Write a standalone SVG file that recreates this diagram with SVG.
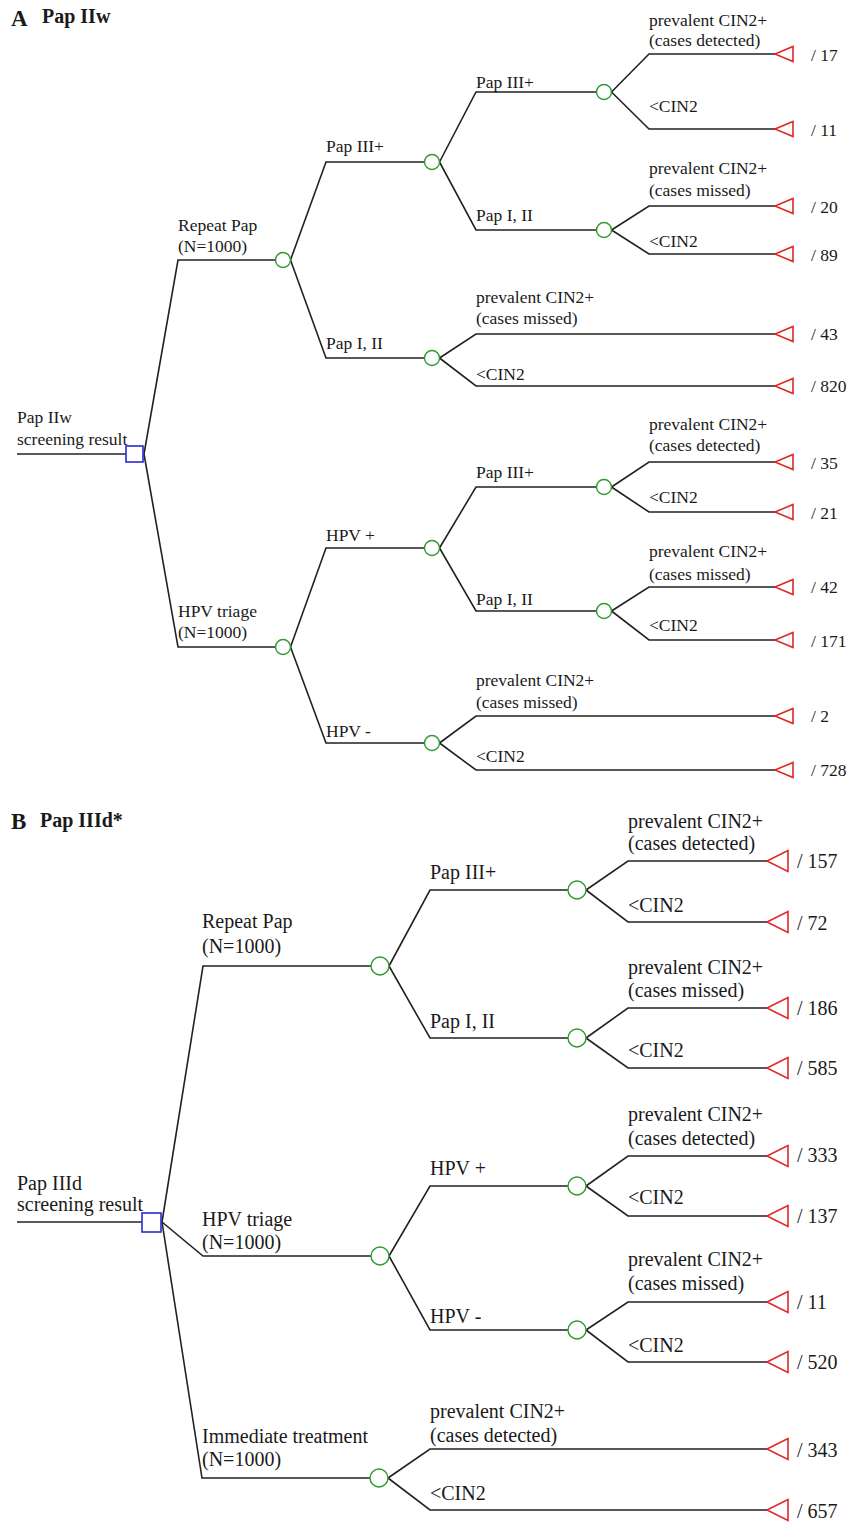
<svg xmlns="http://www.w3.org/2000/svg" width="858" height="1522" viewBox="0 0 858 1522">
<style>
  text { font-family: "Liberation Serif", "Times New Roman", serif; fill: #1a1a1a; }
  .ta { font-size: 17.5px; }
  .tb { font-size: 20px; }
  .title { font-weight: bold; font-size: 20px; }
  .big { font-weight: bold; font-size: 23px; }
  .edge { fill: none; stroke: #222; stroke-width: 1.6; }
  .dec { fill: #fff; stroke: #2b2bd0; stroke-width: 1.6; }
  .chance { fill: #fff; stroke: #2e9a2e; stroke-width: 1.4; }
  .term { fill: none; stroke: #e02828; stroke-width: 1.6; stroke-linejoin: miter; }
</style>
<rect width="858" height="1522" fill="#fff"/>

<!-- Titles -->
<g id="title-a"><text class="big" x="11" y="26">A</text><text class="title" x="42" y="23">Pap IIw</text></g>
<g id="title-b"><text class="big" x="11" y="829">B</text><text class="title" x="40" y="827">Pap IIId*</text></g>

<!-- Connectors -->
<g id="connectors">
  <!-- Panel A -->
  <path class="edge" d="M17,454 H126"/>
  <path class="edge" d="M144,454 L178,260 H275.5"/>
  <path class="edge" d="M144,454 L178,647 H275.5"/>
  <path class="edge" d="M290.5,260 L326,162 H424.5"/>
  <path class="edge" d="M290.5,260 L326,358 H424.5"/>
  <path class="edge" d="M439.5,162 L476,92 H596.5"/>
  <path class="edge" d="M439.5,162 L476,230 H596.5"/>
  <path class="edge" d="M611.5,92 L649,54 H775"/>
  <path class="edge" d="M611.5,92 L649,129 H775"/>
  <path class="edge" d="M611.5,230 L649,206 H775"/>
  <path class="edge" d="M611.5,230 L649,254 H775"/>
  <path class="edge" d="M439.5,358 L476,334 H775"/>
  <path class="edge" d="M439.5,358 L476,386 H775"/>
  <path class="edge" d="M290.5,647 L326,548 H424.5"/>
  <path class="edge" d="M290.5,647 L326,743 H424.5"/>
  <path class="edge" d="M439.5,548 L476,487 H596.5"/>
  <path class="edge" d="M439.5,548 L476,611 H596.5"/>
  <path class="edge" d="M611.5,487 L649,462 H775"/>
  <path class="edge" d="M611.5,487 L649,512 H775"/>
  <path class="edge" d="M611.5,611 L649,587 H775"/>
  <path class="edge" d="M611.5,611 L649,640 H775"/>
  <path class="edge" d="M439.5,743 L476,716 H775"/>
  <path class="edge" d="M439.5,743 L476,770 H775"/>
  <!-- Panel B -->
  <path class="edge" d="M17,1222 H142"/>
  <path class="edge" d="M162,1222 L203,966 H371"/>
  <path class="edge" d="M162,1222 L203,1256 H371"/>
  <path class="edge" d="M162,1222 L202,1478 H370"/>
  <path class="edge" d="M389,966 L430,890 H568"/>
  <path class="edge" d="M389,966 L430,1038 H568"/>
  <path class="edge" d="M586,890 L628,861 H767"/>
  <path class="edge" d="M586,890 L628,922 H767"/>
  <path class="edge" d="M586,1038 L628,1008 H767"/>
  <path class="edge" d="M586,1038 L628,1068 H767"/>
  <path class="edge" d="M389,1256 L430,1186 H568"/>
  <path class="edge" d="M389,1256 L430,1330 H568"/>
  <path class="edge" d="M586,1186 L628,1156 H767"/>
  <path class="edge" d="M586,1186 L628,1216 H767"/>
  <path class="edge" d="M586,1330 L628,1302 H767"/>
  <path class="edge" d="M586,1330 L628,1362 H767"/>
  <path class="edge" d="M388,1478 L430,1449 H767"/>
  <path class="edge" d="M388,1478 L430,1510 H767"/>
</g>

<!-- Branch labels -->
<g id="labels-a" class="ta">
  <text class="ta" x="17" y="423">Pap IIw</text>
  <text class="ta" x="17" y="445">screening result</text>
  <text class="ta" x="178" y="231">Repeat Pap</text>
  <text class="ta" x="178" y="252">(N=1000)</text>
  <text class="ta" x="178" y="617">HPV triage</text>
  <text class="ta" x="178" y="638">(N=1000)</text>
  <text class="ta" x="326" y="152">Pap III+</text>
  <text class="ta" x="326" y="349">Pap I, II</text>
  <text class="ta" x="476" y="88">Pap III+</text>
  <text class="ta" x="476" y="221">Pap I, II</text>
  <text class="ta" x="326" y="541">HPV +</text>
  <text class="ta" x="326" y="737">HPV -</text>
  <text class="ta" x="476" y="478">Pap III+</text>
  <text class="ta" x="476" y="605">Pap I, II</text>
  <text class="ta" x="649" y="26">prevalent CIN2+</text>
  <text class="ta" x="649" y="46">(cases detected)</text>
  <text class="ta" x="649" y="112">&lt;CIN2</text>
  <text class="ta" x="649" y="174">prevalent CIN2+</text>
  <text class="ta" x="649" y="196">(cases missed)</text>
  <text class="ta" x="649" y="247">&lt;CIN2</text>
  <text class="ta" x="476" y="303">prevalent CIN2+</text>
  <text class="ta" x="476" y="324">(cases missed)</text>
  <text class="ta" x="476" y="380">&lt;CIN2</text>
  <text class="ta" x="649" y="430">prevalent CIN2+</text>
  <text class="ta" x="649" y="451">(cases detected)</text>
  <text class="ta" x="649" y="503">&lt;CIN2</text>
  <text class="ta" x="649" y="557">prevalent CIN2+</text>
  <text class="ta" x="649" y="580">(cases missed)</text>
  <text class="ta" x="649" y="631">&lt;CIN2</text>
  <text class="ta" x="476" y="686">prevalent CIN2+</text>
  <text class="ta" x="476" y="708">(cases missed)</text>
  <text class="ta" x="476" y="762">&lt;CIN2</text>
</g>
<g id="labels-b">
  <text class="tb" x="17" y="1190">Pap IIId</text>
  <text class="tb" x="17" y="1211">screening result</text>
  <text class="tb" x="202" y="928">Repeat Pap</text>
  <text class="tb" x="202" y="953">(N=1000)</text>
  <text class="tb" x="202" y="1226">HPV triage</text>
  <text class="tb" x="202" y="1249">(N=1000)</text>
  <text class="tb" x="202" y="1443">Immediate treatment</text>
  <text class="tb" x="202" y="1466">(N=1000)</text>
  <text class="tb" x="430" y="879">Pap III+</text>
  <text class="tb" x="430" y="1028">Pap I, II</text>
  <text class="tb" x="430" y="1175">HPV +</text>
  <text class="tb" x="430" y="1323">HPV -</text>
  <text class="tb" x="628" y="828">prevalent CIN2+</text>
  <text class="tb" x="628" y="850">(cases detected)</text>
  <text class="tb" x="628" y="912">&lt;CIN2</text>
  <text class="tb" x="628" y="974">prevalent CIN2+</text>
  <text class="tb" x="628" y="997">(cases missed)</text>
  <text class="tb" x="628" y="1057">&lt;CIN2</text>
  <text class="tb" x="628" y="1121">prevalent CIN2+</text>
  <text class="tb" x="628" y="1145">(cases detected)</text>
  <text class="tb" x="628" y="1204">&lt;CIN2</text>
  <text class="tb" x="628" y="1266">prevalent CIN2+</text>
  <text class="tb" x="628" y="1290">(cases missed)</text>
  <text class="tb" x="628" y="1352">&lt;CIN2</text>
  <text class="tb" x="430" y="1418">prevalent CIN2+</text>
  <text class="tb" x="430" y="1442">(cases detected)</text>
  <text class="tb" x="430" y="1500">&lt;CIN2</text>
</g>

<!-- Decision nodes -->
<g id="root-a"><rect class="dec" x="126" y="446" width="17" height="16"/></g>
<g id="root-b"><rect class="dec" x="142" y="1213" width="19" height="19"/></g>

<!-- Chance nodes, panel A -->
<g id="a-repeat"><circle class="chance" cx="283" cy="260" r="7.5"/></g>
<g id="a-hpvtriage"><circle class="chance" cx="283" cy="647" r="7.5"/></g>
<g id="a-pap3"><circle class="chance" cx="432" cy="162" r="7.5"/></g>
<g id="a-pap12"><circle class="chance" cx="432" cy="358" r="7.5"/></g>
<g id="a-pap3-pap3"><circle class="chance" cx="604" cy="92" r="7.5"/></g>
<g id="a-pap3-pap12"><circle class="chance" cx="604" cy="230" r="7.5"/></g>
<g id="a-hpvpos"><circle class="chance" cx="432" cy="548" r="7.5"/></g>
<g id="a-hpvneg"><circle class="chance" cx="432" cy="743" r="7.5"/></g>
<g id="a-hpvpos-pap3"><circle class="chance" cx="604" cy="487" r="7.5"/></g>
<g id="a-hpvpos-pap12"><circle class="chance" cx="604" cy="611" r="7.5"/></g>

<!-- Chance nodes, panel B -->
<g id="b-repeat"><circle class="chance" cx="380" cy="966" r="9"/></g>
<g id="b-hpvtriage"><circle class="chance" cx="380" cy="1256" r="9"/></g>
<g id="b-immediate"><circle class="chance" cx="379" cy="1478" r="9"/></g>
<g id="b-pap3"><circle class="chance" cx="577" cy="890" r="9"/></g>
<g id="b-pap12"><circle class="chance" cx="577" cy="1038" r="9"/></g>
<g id="b-hpvpos"><circle class="chance" cx="577" cy="1186" r="9"/></g>
<g id="b-hpvneg"><circle class="chance" cx="577" cy="1330" r="9"/></g>

<!-- Terminal nodes, panel A -->
<g id="a-t17"><polygon class="term" points="775,54 793,46.5 793,61.5"/><text class="ta" x="811" y="61">/ 17</text></g>
<g id="a-t11"><polygon class="term" points="775,129 793,121.5 793,136.5"/><text class="ta" x="811" y="136">/ 11</text></g>
<g id="a-t20"><polygon class="term" points="775,206 793,198.5 793,213.5"/><text class="ta" x="811" y="213">/ 20</text></g>
<g id="a-t89"><polygon class="term" points="775,254 793,246.5 793,261.5"/><text class="ta" x="811" y="261">/ 89</text></g>
<g id="a-t43"><polygon class="term" points="775,334 793,326.5 793,341.5"/><text class="ta" x="811" y="340">/ 43</text></g>
<g id="a-t820"><polygon class="term" points="775,386 793,378.5 793,393.5"/><text class="ta" x="811" y="392">/ 820</text></g>
<g id="a-t35"><polygon class="term" points="775,462 793,454.5 793,469.5"/><text class="ta" x="811" y="469">/ 35</text></g>
<g id="a-t21"><polygon class="term" points="775,512 793,504.5 793,519.5"/><text class="ta" x="811" y="519">/ 21</text></g>
<g id="a-t42"><polygon class="term" points="775,587 793,579.5 793,594.5"/><text class="ta" x="811" y="593">/ 42</text></g>
<g id="a-t171"><polygon class="term" points="775,640 793,632.5 793,647.5"/><text class="ta" x="811" y="647">/ 171</text></g>
<g id="a-t2"><polygon class="term" points="775,716 793,708.5 793,723.5"/><text class="ta" x="811" y="722">/ 2</text></g>
<g id="a-t728"><polygon class="term" points="775,770 793,762.5 793,777.5"/><text class="ta" x="811" y="776">/ 728</text></g>

<!-- Terminal nodes, panel B -->
<g id="b-t157"><polygon class="term" points="767,861 788,850.5 788,871.5"/><text class="tb" x="797" y="868">/ 157</text></g>
<g id="b-t72"><polygon class="term" points="767,922 788,911.5 788,932.5"/><text class="tb" x="797" y="930">/ 72</text></g>
<g id="b-t186"><polygon class="term" points="767,1008 788,997.5 788,1018.5"/><text class="tb" x="797" y="1015">/ 186</text></g>
<g id="b-t585"><polygon class="term" points="767,1068 788,1057.5 788,1078.5"/><text class="tb" x="797" y="1075">/ 585</text></g>
<g id="b-t333"><polygon class="term" points="767,1156 788,1145.5 788,1166.5"/><text class="tb" x="797" y="1162">/ 333</text></g>
<g id="b-t137"><polygon class="term" points="767,1216 788,1205.5 788,1226.5"/><text class="tb" x="797" y="1223">/ 137</text></g>
<g id="b-t11"><polygon class="term" points="767,1302 788,1291.5 788,1312.5"/><text class="tb" x="797" y="1309">/ 11</text></g>
<g id="b-t520"><polygon class="term" points="767,1362 788,1351.5 788,1372.5"/><text class="tb" x="797" y="1369">/ 520</text></g>
<g id="b-t343"><polygon class="term" points="767,1449 788,1438.5 788,1459.5"/><text class="tb" x="797" y="1457">/ 343</text></g>
<g id="b-t657"><polygon class="term" points="767,1510 788,1499.5 788,1520.5"/><text class="tb" x="797" y="1518">/ 657</text></g>
</svg>
